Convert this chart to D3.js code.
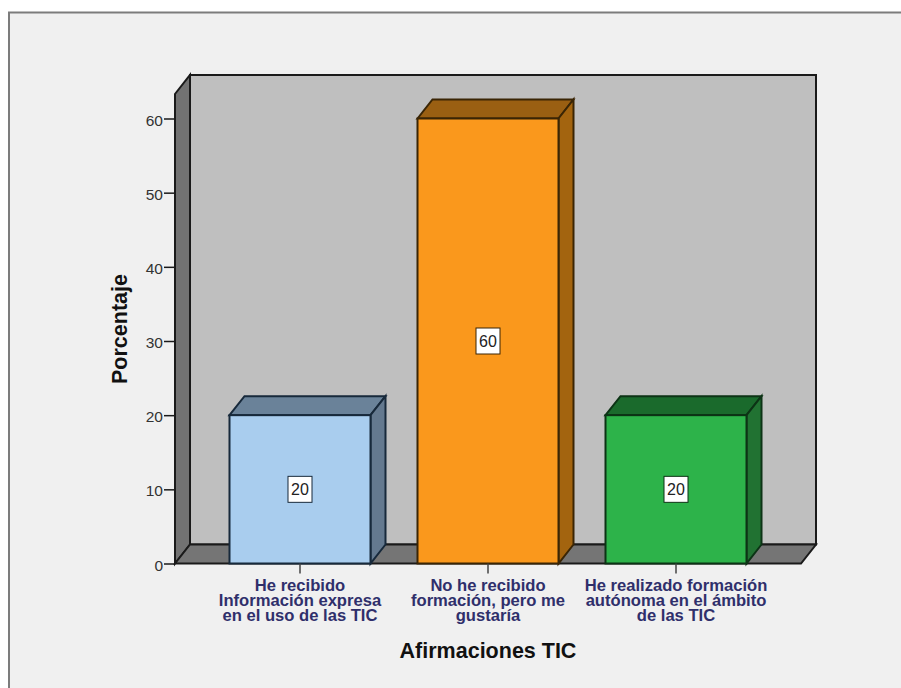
<!DOCTYPE html>
<html><head><meta charset="utf-8">
<script src="https://cdn.jsdelivr.net/npm/d3@7"></script>
<style>html,body{margin:0;padding:0;background:#fff}svg{display:block}text{font-family:"Liberation Sans",Arial,sans-serif}</style>
</head><body><svg id="c" width="901" height="688"></svg>
<script>
const categories = ["A","B","C"];
const categoryLines = [
  ["He recibido","Información expresa","en el uso de las TIC"],
  ["No he recibido","formación, pero me","gustaría"],
  ["He realizado formación","autónoma en el ámbito","de las TIC"]
];
const values = [20,60,20];
const frontColors = ["#a9cdee","#fa981c","#2db34a"];
const topColors = ["#6a8299","#9a5f12","#1a6a2c"];
const sideColors = ["#64798f","#a3640f","#217232"];
const strokeColors = ["#17293b","#3a2505","#0c3315"];
const yTicks = [0,10,20,30,40,50,60];
const yLabel = "Porcentaje";
const xLabel = "Afirmaciones TIC";

const svg = d3.select("#c");
const dx = 15, dy = -19;
const x = d3.scaleBand().domain(categories).range([182.5,793.5]).padding(0.25);
const y = d3.scaleLinear().domain([0,60]).range([563.5,118.5]);
const plotLeft = 175, plotRight = 802, plotBottom = y(0), plotTop = 94;
const lineColor = "#1a1a1a";

// frame
svg.append("rect").attr("width",901).attr("height",688).attr("fill","#fff");
svg.append("rect").attr("x",9).attr("y",12.5).attr("width",900).attr("height",690)
  .attr("fill","#f0f0f0").attr("stroke","#7c7c7c").attr("stroke-width",2);

const poly = (pts,fill,stroke,w=2)=>svg.append("polygon").attr("points",pts.map(p=>p.join(",")).join(" "))
  .attr("fill",fill).attr("stroke",stroke).attr("stroke-width",w).attr("stroke-linejoin","miter");

// walls
poly([[plotLeft+dx,plotTop+dy],[plotRight+dx-1,plotTop+dy],[plotRight+dx-1,plotBottom+dy],[plotLeft+dx,plotBottom+dy]],"#bfbfbf",lineColor);
poly([[plotLeft,plotTop],[plotLeft+dx,plotTop+dy],[plotLeft+dx,plotBottom+dy],[plotLeft,plotBottom]],"#727272",lineColor);
poly([[plotLeft,plotBottom],[plotLeft+dx,plotBottom+dy],[plotRight+dx-1,plotBottom+dy],[plotRight-1,plotBottom]],"#757575",lineColor);

// bars
categories.forEach((c,i)=>{
  const x0=x(c), x1=x0+x.bandwidth(), yt=y(values[i]);
  poly([[x0,yt],[x0+dx,yt+dy],[x1+dx,yt+dy],[x1,yt]],topColors[i],strokeColors[i]);
  poly([[x1,yt],[x1+dx,yt+dy],[x1+dx,plotBottom+dy],[x1,plotBottom]],sideColors[i],strokeColors[i]);
  svg.append("rect").attr("x",x0).attr("y",yt).attr("width",x1-x0).attr("height",plotBottom-yt)
    .attr("fill",frontColors[i]).attr("stroke",strokeColors[i]).attr("stroke-width",2);
  const cx=(x0+x1)/2, cy=y(values[i]/2);
  svg.append("rect").attr("x",cx-12).attr("y",cy-13).attr("width",24).attr("height",26)
    .attr("fill","#fff").attr("stroke",strokeColors[i]).attr("stroke-width",1);
  svg.append("text").attr("x",cx).attr("y",cy+6).attr("text-anchor","middle")
    .attr("font-size",16).attr("fill","#222").text(values[i]);
});

// y axis
const yAxis = d3.axisLeft(y).tickValues(yTicks).tickSize(11).tickPadding(1).tickSizeOuter(0);
const gy = svg.append("g").attr("transform",`translate(${plotLeft},0)`).call(yAxis);
gy.select(".domain").remove();
gy.selectAll(".tick line").attr("stroke",lineColor).attr("stroke-width",1.5);
gy.selectAll(".tick text").attr("font-size",15.5).attr("fill","#333").attr("font-family","Liberation Sans").attr("dy","0.42em");

// x axis
const gx = svg.append("g").attr("transform",`translate(0,${plotBottom})`)
  .call(d3.axisBottom(x).tickSize(10).tickFormat(""));
gx.select(".domain").remove();
gx.selectAll(".tick line").attr("stroke","#444").attr("stroke-width",1.5);
categories.forEach((c,i)=>{
  const t=svg.append("text").attr("text-anchor","middle").attr("font-size",16.6).attr("font-weight","bold")
    .attr("fill","#2f2f6b");
  categoryLines[i].forEach((l,j)=>t.append("tspan").attr("x",x(c)+x.bandwidth()/2).attr("y",590.5+j*15.3).text(l));
});

// axis titles
svg.append("text").attr("transform","translate(127,329) rotate(-90)").attr("text-anchor","middle")
  .attr("font-size",21.5).attr("font-weight","bold").attr("fill","#111").text(yLabel);
svg.append("text").attr("x",488).attr("y",658).attr("text-anchor","middle")
  .attr("font-size",21.5).attr("font-weight","bold").attr("fill","#111").text(xLabel);
</script></body></html>
